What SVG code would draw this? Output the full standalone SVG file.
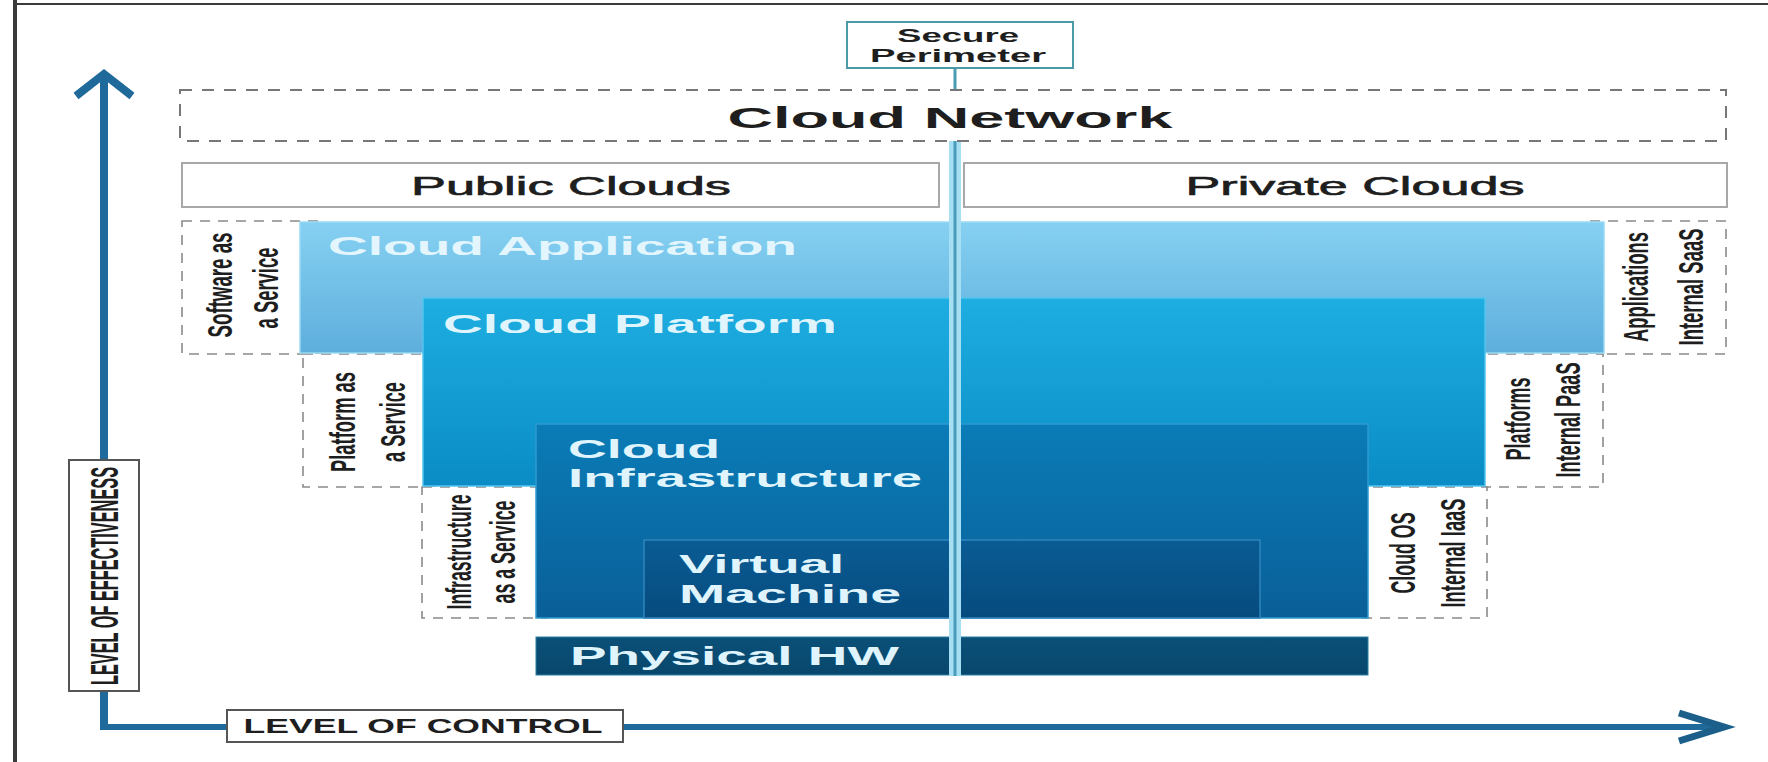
<svg xmlns="http://www.w3.org/2000/svg" width="1768" height="762" viewBox="0 0 1768 762">
<style>
  .dash { fill: #ffffff; stroke: #8a8a8a; stroke-width: 1.6; stroke-dasharray: 10 8; }
  .solid { fill: #ffffff; stroke: #a8a8a8; stroke-width: 2; }
  .lbl { fill: #ffffff; stroke: #555555; stroke-width: 2; }
  .t { font-family: "Liberation Sans", Arial, sans-serif; fill: #1e1e1e; }
  .w { font-family: "Liberation Sans", Arial, sans-serif; fill: #dff4fc; font-size: 25px; font-weight: bold; }
  .side { font-family: "Liberation Sans", Arial, sans-serif; fill: #1e1e1e; font-size: 35px; font-weight: bold; text-anchor: middle; }
  .axis { fill: none; stroke: #1f6a9a; stroke-linecap: butt; }
</style>
<defs>
  <linearGradient id="gApp" x1="0" y1="0" x2="0" y2="1">
    <stop offset="0" stop-color="#86d1f2"/>
    <stop offset="1" stop-color="#5eaedd"/>
  </linearGradient>
  <linearGradient id="gPlat" x1="0" y1="0" x2="0" y2="1">
    <stop offset="0" stop-color="#1eaee1"/>
    <stop offset="1" stop-color="#0a8cc5"/>
  </linearGradient>
  <linearGradient id="gInf" x1="0" y1="0" x2="0" y2="1">
    <stop offset="0" stop-color="#0a7cb7"/>
    <stop offset="1" stop-color="#0a5f98"/>
  </linearGradient>
  <linearGradient id="gVM" x1="0" y1="0" x2="0" y2="1">
    <stop offset="0" stop-color="#0a5c94"/>
    <stop offset="1" stop-color="#064b7e"/>
  </linearGradient>
  <linearGradient id="gHW" x1="0" y1="0" x2="0" y2="1">
    <stop offset="0" stop-color="#0b5078"/>
    <stop offset="1" stop-color="#08476c"/>
  </linearGradient>
</defs>

<rect x="0" y="0" width="1768" height="762" fill="#ffffff"/>
<!-- frame -->
<line x1="15" y1="0" x2="15" y2="762" stroke="#3a3a3a" stroke-width="4"/>
<line x1="15" y1="4" x2="1768" y2="4" stroke="#3a3a3a" stroke-width="2"/>

<!-- side dashed boxes (behind layers) -->
<g id="saas-label">
  <rect class="dash" x="182" y="221" width="140" height="133"/>
  <text class="side" transform="translate(232,285) rotate(-90)" textLength="105" lengthAdjust="spacingAndGlyphs">Software as</text>
  <text class="side" transform="translate(278,288) rotate(-90)" textLength="81" lengthAdjust="spacingAndGlyphs">a Service</text>
</g>
<g id="internal-saas-label">
  <rect class="dash" x="1590" y="221" width="136" height="133"/>
  <text class="side" transform="translate(1648,287) rotate(-90)" textLength="110" lengthAdjust="spacingAndGlyphs">Applications</text>
  <text class="side" transform="translate(1703,287) rotate(-90)" textLength="117" lengthAdjust="spacingAndGlyphs">Internal SaaS</text>
</g>
<g id="paas-label">
  <rect class="dash" x="303" y="354" width="135" height="133"/>
  <text class="side" transform="translate(355,422) rotate(-90)" textLength="100" lengthAdjust="spacingAndGlyphs">Platform as</text>
  <text class="side" transform="translate(405,422) rotate(-90)" textLength="80" lengthAdjust="spacingAndGlyphs">a Service</text>
</g>
<g id="internal-paas-label">
  <rect class="dash" x="1470" y="354" width="133" height="133"/>
  <text class="side" transform="translate(1530,419) rotate(-90)" textLength="83" lengthAdjust="spacingAndGlyphs">Platforms</text>
  <text class="side" transform="translate(1580,420) rotate(-90)" textLength="115" lengthAdjust="spacingAndGlyphs">Internal PaaS</text>
</g>
<g id="iaas-label">
  <rect class="dash" x="422" y="487" width="125" height="131"/>
  <text class="side" transform="translate(471,552) rotate(-90)" textLength="115" lengthAdjust="spacingAndGlyphs">Infrastructure</text>
  <text class="side" transform="translate(515,552) rotate(-90)" textLength="103" lengthAdjust="spacingAndGlyphs">as a Service</text>
</g>
<g id="internal-iaas-label">
  <rect class="dash" x="1355" y="487" width="132" height="131"/>
  <text class="side" transform="translate(1415,553) rotate(-90)" textLength="81" lengthAdjust="spacingAndGlyphs">Cloud OS</text>
  <text class="side" transform="translate(1465,553) rotate(-90)" textLength="109" lengthAdjust="spacingAndGlyphs">Internal IaaS</text>
</g>

<!-- layered blocks -->
<g id="cloud-application">
  <rect x="300" y="222" width="1304" height="131" fill="url(#gApp)" stroke="#9adaf5" stroke-width="1.5"/>
  <text class="w" x="328" y="255" textLength="469" lengthAdjust="spacingAndGlyphs" style="fill:#e4f6fd">Cloud Application</text>
</g>
<g id="cloud-platform">
  <rect x="423" y="298" width="1062" height="188" fill="url(#gPlat)" stroke="#52c3ee" stroke-width="1.5"/>
  <text class="w" x="443" y="333" textLength="394" lengthAdjust="spacingAndGlyphs">Cloud Platform</text>
</g>
<g id="cloud-infrastructure">
  <rect x="536" y="424" width="832" height="194" fill="url(#gInf)" stroke="#2e9ad0" stroke-width="1.5"/>
  <text class="w" x="568" y="458" textLength="152" lengthAdjust="spacingAndGlyphs">Cloud</text>
  <text class="w" x="568" y="487" textLength="354" lengthAdjust="spacingAndGlyphs">Infrastructure</text>
</g>
<g id="virtual-machine">
  <rect x="644" y="540" width="616" height="78" fill="url(#gVM)" stroke="#2f85bd" stroke-width="1.5"/>
  <text class="w" x="679" y="573" textLength="165" lengthAdjust="spacingAndGlyphs">Virtual</text>
  <text class="w" x="679" y="603" textLength="222" lengthAdjust="spacingAndGlyphs">Machine</text>
</g>
<g id="physical-hw">
  <rect x="536" y="637" width="832" height="38" fill="url(#gHW)" stroke="#2a7fa8" stroke-width="1"/>
  <text class="w" x="570" y="665" style="font-size:26px" textLength="329" lengthAdjust="spacingAndGlyphs">Physical HW</text>
</g>

<g id="public-clouds">
  <rect class="solid" x="182" y="163" width="757" height="44"/>
  <text class="t" x="571" y="195" font-size="25" text-anchor="middle" textLength="320" lengthAdjust="spacingAndGlyphs" stroke="#1e1e1e" stroke-width="0.6">Public Clouds</text>
</g>
<g id="private-clouds">
  <rect class="solid" x="964" y="163" width="763" height="44"/>
  <text class="t" x="1355" y="195" font-size="25" text-anchor="middle" textLength="339" lengthAdjust="spacingAndGlyphs" stroke="#1e1e1e" stroke-width="0.6">Private Clouds</text>
</g>

<!-- connectors -->
<g id="connectors">
  <line x1="955" y1="68" x2="955" y2="92" stroke="#4a9cb2" stroke-width="3"/>
  <line x1="955" y1="141" x2="955" y2="676" stroke="#a6def4" stroke-width="12"/>
  <line x1="955" y1="141" x2="955" y2="676" stroke="#4b9cb8" stroke-width="3"/>
  <line class="axis" x1="104" y1="76" x2="104" y2="730" stroke-width="8"/>
  <polyline class="axis" points="76,96 104,74 132,96" stroke-width="8" stroke-linejoin="miter"/>
  <line class="axis" x1="100" y1="727" x2="1722" y2="727" stroke-width="6"/>
  <polyline class="axis" points="1679,713 1724,727 1679,741" stroke-width="7" stroke-linejoin="miter" style="stroke:#1b5f8a"/>
</g>

<g id="cloud-network">
  <rect class="dash" x="180" y="90" width="1546" height="51" style="stroke:#777777;stroke-width:2;stroke-dasharray:12 10"/>
  <text class="t" x="950" y="128" font-size="29" font-weight="bold" text-anchor="middle" textLength="445" lengthAdjust="spacingAndGlyphs">Cloud Network</text>
</g>
<g id="secure-perimeter">
  <rect x="847" y="22" width="226" height="46" fill="#ffffff" stroke="#4b9aa8" stroke-width="2"/>
  <text class="t" x="958" y="42" font-size="18" font-weight="bold" text-anchor="middle" textLength="122" lengthAdjust="spacingAndGlyphs">Secure</text>
  <text class="t" x="958" y="62" font-size="18" font-weight="bold" text-anchor="middle" textLength="176" lengthAdjust="spacingAndGlyphs">Perimeter</text>
</g>

<g id="level-of-effectiveness">
  <rect class="lbl" x="69" y="460" width="70" height="231"/>
  <text class="t" transform="translate(118,576) rotate(-90)" font-size="39" font-weight="bold" text-anchor="middle" textLength="218" lengthAdjust="spacingAndGlyphs">LEVEL OF EFFECTIVENESS</text>
</g>
<g id="level-of-control">
  <rect class="lbl" x="227" y="710" width="396" height="32"/>
  <text class="t" x="423" y="733" font-size="19.5" font-weight="bold" text-anchor="middle" textLength="359" lengthAdjust="spacingAndGlyphs">LEVEL OF CONTROL</text>
</g>
</svg>
